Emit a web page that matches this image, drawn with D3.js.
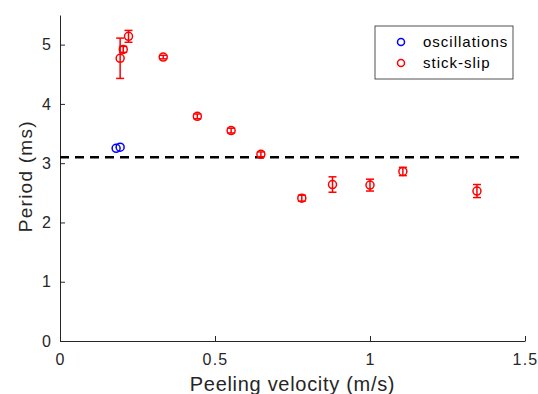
<!DOCTYPE html>
<html>
<head>
<meta charset="utf-8">
<script src="https://cdn.jsdelivr.net/npm/d3@7"></script>
<style>
  body { margin: 0; background: #fff; }
  svg { display: block; font-family: "Liberation Sans", Arial, sans-serif; }
</style>
</head>
<body>
<div id="chart"></div>
<script>
// oscillations series
const oscVelocity = [0.181, 0.194];
const oscPeriod   = [3.25, 3.27];

// stick-slip series
const slipVelocity = [0.194, 0.204, 0.221, 0.333, 0.443, 0.552, 0.648, 0.78, 0.879, 1.0, 1.106, 1.345];
const slipPeriod   = [4.77, 4.92, 5.14, 4.79, 3.79, 3.55, 3.15, 2.41, 2.64, 2.63, 2.86, 2.53];
const slipError    = [0.34, 0.05, 0.10, 0.03, 0.04, 0.04, 0.04, 0.05, 0.13, 0.10, 0.07, 0.11];

const thresholdPeriod = 3.1;
const xTicks = [0, 0.5, 1, 1.5];
const yTicks = [0, 1, 2, 3, 4, 5];
const legendLabels = ['oscillations', 'stick-slip'];

const W = 538, H = 394;
const margin = {left: 60, right: 13, top: 15, bottom: 53};
const width = W - margin.left - margin.right;
const height = H - margin.top - margin.bottom;
const axisColor = '#262626';

const svg = d3.select('#chart').append('svg')
  .attr('width', W)
  .attr('height', H);

const chart = svg.append('g')
  .attr('transform', `translate(${margin.left},${margin.top})`);

const xScale = d3.scaleLinear().domain([0, 1.5]).range([0, width]);
const yScale = d3.scaleLinear().domain([0, 5.5]).range([height, 0]);

// axes (MATLAB style: ticks pointing in)
const xAxis = chart.append('g')
  .attr('transform', `translate(0,${height})`)
  .call(d3.axisBottom(xScale).tickValues(xTicks).tickFormat(d3.format('')).tickSizeInner(-5).tickSizeOuter(0).tickPadding(13));
const yAxis = chart.append('g')
  .call(d3.axisLeft(yScale).tickValues(yTicks).tickFormat(d3.format('')).tickSizeInner(-5).tickSizeOuter(0).tickPadding(8));

[xAxis, yAxis].forEach(a => {
  a.select('.domain').attr('stroke', axisColor).attr('stroke-width', 1);
  a.selectAll('.tick line').attr('stroke', axisColor);
  a.selectAll('.tick text')
    .attr('fill', axisColor)
    .style('font-size', '16px')
    .style('letter-spacing', '1.2px');
});

// threshold line
chart.append('line')
  .attr('x1', xScale(0)).attr('x2', xScale(1.5))
  .attr('y1', yScale(thresholdPeriod)).attr('y2', yScale(thresholdPeriod))
  .attr('stroke', '#000')
  .attr('stroke-width', 2.5)
  .attr('stroke-dasharray', '9,6');

// stick-slip error bars
const slip = slipVelocity.map((v, i) => ({v: v, p: slipPeriod[i], e: slipError[i]}));
const bars = chart.selectAll('.err')
  .data(slip)
  .enter().append('g')
  .attr('class', 'err')
  .attr('stroke', 'red')
  .attr('stroke-width', 1.5);
bars.append('line')
  .attr('x1', d => xScale(d.v)).attr('x2', d => xScale(d.v))
  .attr('y1', d => yScale(d.p - d.e)).attr('y2', d => yScale(d.p + d.e));
bars.append('line')
  .attr('x1', d => xScale(d.v) - 4).attr('x2', d => xScale(d.v) + 4)
  .attr('y1', d => yScale(d.p + d.e)).attr('y2', d => yScale(d.p + d.e));
bars.append('line')
  .attr('x1', d => xScale(d.v) - 4).attr('x2', d => xScale(d.v) + 4)
  .attr('y1', d => yScale(d.p - d.e)).attr('y2', d => yScale(d.p - d.e));

chart.selectAll('.slip')
  .data(slip)
  .enter().append('circle')
  .attr('class', 'slip')
  .attr('cx', d => xScale(d.v))
  .attr('cy', d => yScale(d.p))
  .attr('r', 4)
  .attr('fill', 'none')
  .attr('stroke', 'red')
  .attr('stroke-width', 1.5);

// oscillations
chart.selectAll('.osc')
  .data(oscVelocity.map((v, i) => ({v: v, p: oscPeriod[i]})))
  .enter().append('circle')
  .attr('class', 'osc')
  .attr('cx', d => xScale(d.v))
  .attr('cy', d => yScale(d.p))
  .attr('r', 4)
  .attr('fill', 'none')
  .attr('stroke', 'blue')
  .attr('stroke-width', 1.5);

// axis labels
svg.append('text')
  .attr('x', margin.left + width / 2)
  .attr('y', 391)
  .attr('text-anchor', 'middle')
  .attr('fill', axisColor)
  .style('font-size', '20px')
  .style('letter-spacing', '0.7px')
  .text('Peeling velocity (m/s)');

svg.append('text')
  .attr('transform', `translate(32,${margin.top + yScale(2.78)}) rotate(-90)`)
  .attr('text-anchor', 'middle')
  .attr('fill', axisColor)
  .style('font-size', '19px')
  .style('letter-spacing', '1.25px')
  .text('Period (ms)');

// legend
const legend = svg.append('g').attr('transform', 'translate(375,26)');
legend.append('rect')
  .attr('width', 138).attr('height', 53)
  .attr('fill', '#fff')
  .attr('stroke', axisColor)
  .attr('stroke-width', 0.8);
const legendColors = ['blue', 'red'];
const items = legend.selectAll('.legend')
  .data(legendLabels)
  .enter().append('g')
  .attr('class', 'legend')
  .attr('transform', (d, i) => `translate(0,${16 + i * 21})`);
items.append('circle')
  .attr('cx', 26).attr('cy', 0).attr('r', 3.5)
  .attr('fill', 'none')
  .attr('stroke', (d, i) => legendColors[i])
  .attr('stroke-width', 1.5);
items.append('text')
  .attr('x', 48).attr('y', 0)
  .attr('dy', '0.35em')
  .attr('fill', '#000')
  .style('font-size', '15px')
  .style('letter-spacing', '1px')
  .text(d => d);
</script>
</body>
</html>
